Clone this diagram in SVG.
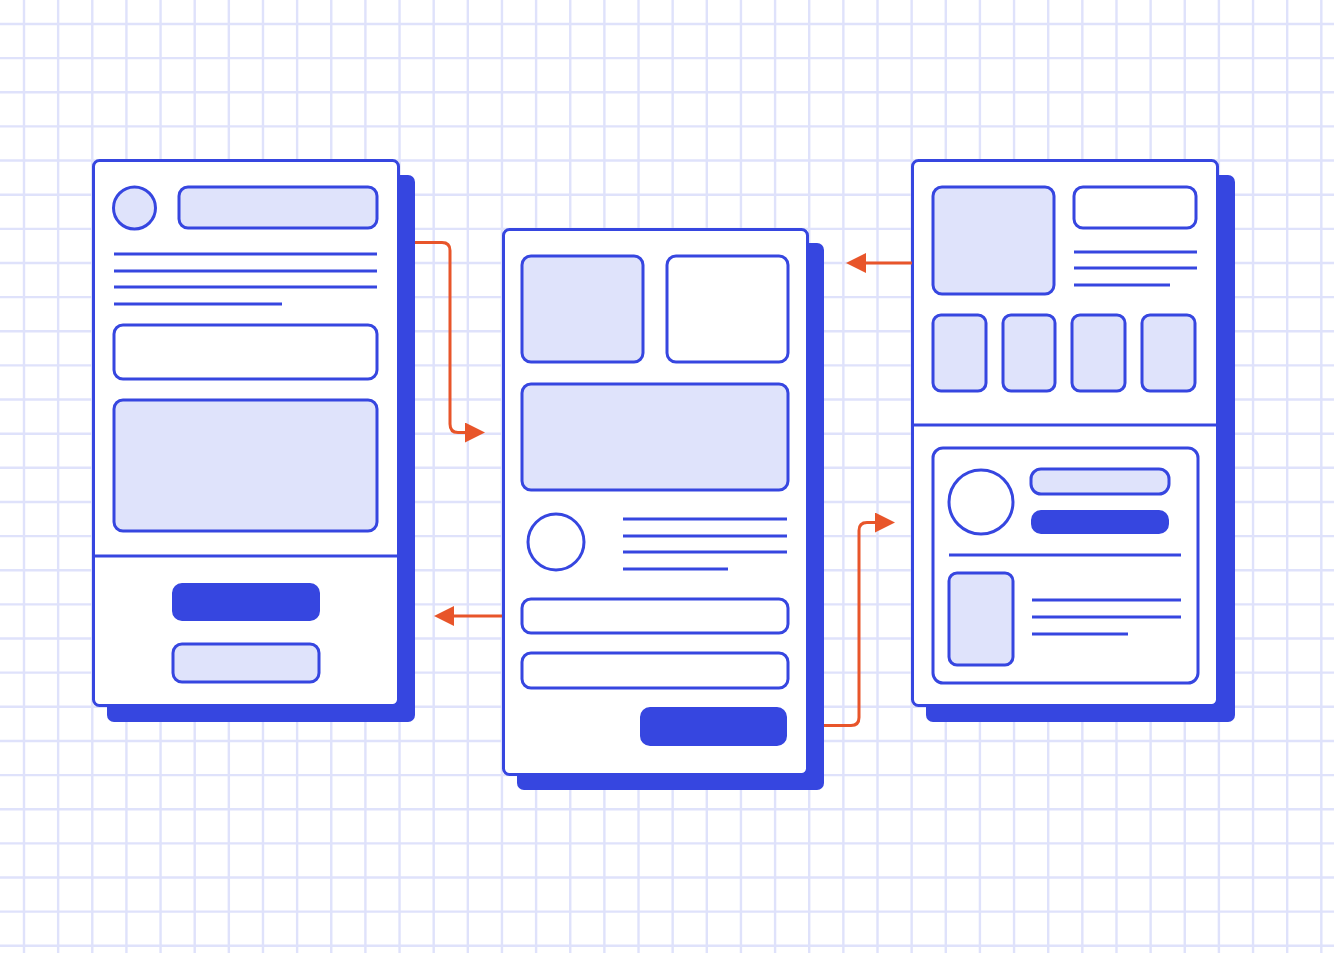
<svg xmlns="http://www.w3.org/2000/svg" width="1334" height="953" viewBox="0 0 1334 953">
<defs>
<marker id="ah" viewBox="0 0 20 20" refX="2" refY="10" markerWidth="20" markerHeight="20" markerUnits="userSpaceOnUse" orient="auto">
<path d="M0 0L20 10L0 20Z" fill="#e8552a"/>
</marker>
<style>
.grid{stroke:#dfe2fb;stroke-width:2.4;fill:none}
.card{fill:#fff;stroke:#3646e0;stroke-width:3}
.shadow{fill:#3646e0}
.lt{fill:#dfe3fb;stroke:#3646e0;stroke-width:3}
.wt{fill:#fff;stroke:#3646e0;stroke-width:3}
.fb{fill:#3646e0;stroke:#3646e0;stroke-width:2}
.ln{stroke:#3646e0;stroke-width:3;fill:none}
.conn{stroke:#e8552a;stroke-width:3;fill:none}
</style>
</defs>
<rect width="1334" height="953" fill="#fff"/>
<path class="grid" d="M24 0V953M58.14 0V953M92.28 0V953M126.42 0V953M160.56 0V953M194.7 0V953M228.84 0V953M262.98 0V953M297.12 0V953M331.26 0V953M365.4 0V953M399.54 0V953M433.68 0V953M467.82 0V953M501.96 0V953M536.1 0V953M570.24 0V953M604.38 0V953M638.52 0V953M672.66 0V953M706.8 0V953M740.94 0V953M775.08 0V953M809.22 0V953M843.36 0V953M877.5 0V953M911.64 0V953M945.78 0V953M979.92 0V953M1014.06 0V953M1048.2 0V953M1082.34 0V953M1116.48 0V953M1150.62 0V953M1184.76 0V953M1218.9 0V953M1253.04 0V953M1287.18 0V953M1321.32 0V953
M0 24H1334M0 58.14H1334M0 92.28H1334M0 126.42H1334M0 160.56H1334M0 194.7H1334M0 228.84H1334M0 262.98H1334M0 297.12H1334M0 331.26H1334M0 365.4H1334M0 399.54H1334M0 433.68H1334M0 467.82H1334M0 501.96H1334M0 536.1H1334M0 570.24H1334M0 604.38H1334M0 638.52H1334M0 672.66H1334M0 706.8H1334M0 740.94H1334M0 775.08H1334M0 809.22H1334M0 843.36H1334M0 877.5H1334M0 911.64H1334M0 945.78H1334"/>

<g id="screen-left">
<rect class="shadow" x="107" y="175" width="308" height="547" rx="7"/>
<rect class="card" x="93.5" y="160.5" width="305" height="545" rx="6"/>
<circle class="lt" cx="134.5" cy="208" r="21"/>
<rect class="lt" x="179" y="187" width="198" height="41" rx="9"/>
<line class="ln" x1="114" y1="254" x2="377" y2="254"/>
<line class="ln" x1="114" y1="271" x2="377" y2="271"/>
<line class="ln" x1="114" y1="287" x2="377" y2="287"/>
<line class="ln" x1="114" y1="304" x2="282" y2="304"/>
<rect class="wt" x="114" y="325" width="263" height="54" rx="9"/>
<rect class="lt" x="114" y="400" width="263" height="131" rx="9"/>
<line class="ln" x1="93" y1="556" x2="399" y2="556"/>
<rect class="fb" x="173" y="584" width="146" height="36" rx="9"/>
<rect class="lt" x="173" y="644" width="146" height="38" rx="9"/>
</g>

<g id="screen-middle">
<rect class="shadow" x="517" y="243" width="307" height="547" rx="7"/>
<rect class="card" x="503.5" y="229.5" width="304" height="545" rx="6"/>
<rect class="lt" x="522" y="256" width="121" height="106" rx="9"/>
<rect class="wt" x="667" y="256" width="121" height="106" rx="9"/>
<rect class="lt" x="522" y="384" width="266" height="106" rx="9"/>
<circle class="wt" cx="556" cy="542" r="28"/>
<line class="ln" x1="623" y1="519" x2="787" y2="519"/>
<line class="ln" x1="623" y1="536" x2="787" y2="536"/>
<line class="ln" x1="623" y1="552" x2="787" y2="552"/>
<line class="ln" x1="623" y1="569" x2="728" y2="569"/>
<rect class="wt" x="522" y="599" width="266" height="34" rx="9"/>
<rect class="wt" x="522" y="653" width="266" height="35" rx="9"/>
<rect class="fb" x="641" y="708" width="145" height="37" rx="9"/>
</g>

<g id="screen-right">
<rect class="shadow" x="926" y="175" width="309" height="547" rx="7"/>
<rect class="card" x="912.5" y="160.5" width="305" height="545" rx="6"/>
<rect class="lt" x="933" y="187" width="121" height="107" rx="9"/>
<rect class="wt" x="1074" y="187" width="122" height="41" rx="9"/>
<line class="ln" x1="1074" y1="252" x2="1197" y2="252"/>
<line class="ln" x1="1074" y1="268" x2="1197" y2="268"/>
<line class="ln" x1="1074" y1="285" x2="1170" y2="285"/>
<rect class="lt" x="933" y="315" width="53" height="76" rx="8"/>
<rect class="lt" x="1003" y="315" width="52" height="76" rx="8"/>
<rect class="lt" x="1072" y="315" width="53" height="76" rx="8"/>
<rect class="lt" x="1142" y="315" width="53" height="76" rx="8"/>
<line class="ln" x1="912" y1="425" x2="1218" y2="425"/>
<rect class="wt" x="933" y="448" width="265" height="235" rx="10"/>
<circle class="wt" cx="981" cy="502" r="32"/>
<rect class="lt" x="1031" y="469" width="138" height="25" rx="10"/>
<rect class="fb" x="1032" y="511" width="136" height="22" rx="9"/>
<line class="ln" x1="949" y1="555" x2="1181" y2="555"/>
<rect class="lt" x="949" y="573" width="64" height="92" rx="8"/>
<line class="ln" x1="1032" y1="600" x2="1181" y2="600"/>
<line class="ln" x1="1032" y1="617" x2="1181" y2="617"/>
<line class="ln" x1="1032" y1="634" x2="1128" y2="634"/>
</g>

<g id="connectors">
<path class="conn" d="M415 242.5H442Q450 242.5 450 250.5V424Q450 432.5 458 432.5H467" marker-end="url(#ah)"/>
<path class="conn" d="M502 616H452" marker-end="url(#ah)"/>
<path class="conn" d="M824 725.5H851Q859 725.5 859 717.5V530.5Q859 522.5 867 522.5H877" marker-end="url(#ah)"/>
<path class="conn" d="M912 263H864" marker-end="url(#ah)"/>
</g>
</svg>
